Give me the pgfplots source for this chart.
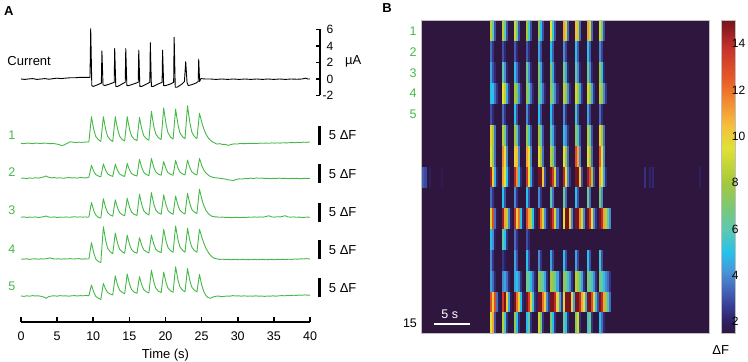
\documentclass[border=0pt]{standalone}
\usepackage{fontspec}
\setmainfont{Liberation Sans}
\usepackage{pgfplots}
\usepackage{pgfplotstable}
\pgfplotsset{compat=1.18}

\definecolor{trace}{RGB}{68,185,72}
\definecolor{hmbg}{RGB}{46,22,62}

% one heat-map cell: a bin of 0.282 s by one cell row
\pgfdeclareplotmark{hmcell}{%
  \pgfpathrectangle{\pgfpoint{-1.1bp}{-10.5bp}}{\pgfpoint{2.2bp}{21bp}}%
  \pgfusepathqfill}

\pgfplotsset{
  /pgf/number format/assume math mode=true,
  tick label style={font=\fontsize{12.5bp}{15bp}\selectfont},
  colormap={dff}{
    rgb255(15pt)=(46,22,62)
    rgb255(20pt)=(45,32,98)
    rgb255(27pt)=(56,62,150)
    rgb255(35pt)=(70,108,192)
    rgb255(42pt)=(72,150,215)
    rgb255(50pt)=(38,194,235)
    rgb255(60pt)=(95,200,175)
    rgb255(70pt)=(125,200,115)
    rgb255(80pt)=(165,200,60)
    rgb255(95pt)=(225,225,55)
    rgb255(105pt)=(245,190,60)
    rgb255(115pt)=(242,140,50)
    rgb255(125pt)=(232,90,40)
    rgb255(138pt)=(200,50,45)
    rgb255(150pt)=(120,20,28)
  },
  trace axis/.style={scale only axis, anchor=south west, width=289bp,
    height=45.6bp, xmin=0, xmax=40, ymin=-1, ymax=11, hide axis, clip=false},
}

% membrane current (uA)
\pgfplotstableread{
t i
0 0.0
0.5 -0.05
1.0 0.0
1.6 0.05
2.2 -0.05
2.8 0.0
3.3 0.05
3.9 -0.03
4.5 0.05
5.0 0.1
5.6 0.05
6.1 0.1
6.8 0.15
7.5 0.15
8.2 0.2
8.8 0.2
9.55 0.2
9.65 6.1
9.8 -0.8
10.0 -0.9
10.6 -0.7
11.12 -0.5
11.2 3.4
11.35 -0.7
11.6 -0.8
12.3 -0.6
12.9 -0.4
12.97 3.7
13.12 -0.9
13.4 -0.9
14.0 -0.6
14.43 -0.4
14.5 3.7
14.65 -0.8
14.9 -0.8
15.6 -0.6
16.23 -0.4
16.3 3.5
16.45 -0.9
16.7 -0.9
17.4 -0.6
17.83 -0.4
17.9 4.4
18.05 -0.9
18.3 -0.9
19.0 -0.6
19.53 -0.4
19.6 3.5
19.75 -0.8
20.0 -0.8
20.7 -0.6
21.13 -0.4
21.2 5.05
21.35 -1.0
21.6 -1.0
22.3 -0.6
22.62 -0.3
22.8 2.1
22.98 -0.4
23.15 -0.8
23.6 -0.7
24.2 -0.5
24.53 -0.3
24.6 2.4
24.72 -0.3
24.9 0.05
25.5 0.0
26.2 0.0
27.0 -0.05
27.8 0.0
28.6 -0.05
29.4 0.0
30.2 -0.05
31.0 0.0
31.8 -0.05
32.6 0.0
33.4 -0.05
34.2 0.0
35.0 -0.05
35.8 0.0
36.6 -0.05
37.4 0.0
38.2 -0.03
38.9 0.0
39.4 0.1
39.7 0.0
40.0 0.0
}\cur

% fluorescence traces (delta F), cells 1-5
\pgfplotstableread{
t f
0 0.0
0.4 -0.1
0.8 0.05
1.2 0.0
1.6 -0.1
2.0 0.05
2.4 0.0
2.8 -0.05
3.2 0.05
3.6 0.0
4.0 -0.1
4.4 -0.05
4.8 -0.15
5.2 -0.3
5.6 -0.6
6.0 -0.4
6.4 0.0
6.8 0.4
7.2 0.3
7.6 0.2
8.0 0.3
8.4 0.25
8.8 0.3
9.2 0.35
9.4 0.4
9.75 7.0
9.9 5.4
10.1 3.4
10.35 1.8
10.7 0.95
11.05 0.5
11.4 7.0
11.55 5.4
11.75 3.4
12.0 1.8
12.35 0.95
12.7 0.5
13.05 7.0
13.2 5.4
13.4 3.5
13.65 1.9
14.0 1.0
14.35 0.6
14.7 7.0
14.85 5.4
15.05 3.5
15.3 1.96
15.65 1.1
16.05 0.7
16.4 6.8
16.55 5.3
16.75 3.5
17.0 2.0
17.35 1.2
17.7 0.8
18.05 8.4
18.2 6.55
18.4 4.3
18.65 2.5
19.0 1.5
19.4 1.0
19.75 9.3
19.9 7.25
20.1 4.8
20.35 2.75
20.7 1.65
21.05 1.1
21.4 9.0
21.55 7.05
21.75 4.7
22.0 2.75
22.35 1.75
22.7 1.2
23.05 9.9
23.2 7.7
23.4 5.1
23.65 2.95
24.0 1.8
24.35 1.2
24.7 7.9
24.85 6.8
25.05 5.3
25.3 3.8
25.6 2.4
26.0 1.2
26.4 0.5
26.8 0.1
27.1 -0.2
27.5 -0.1
27.9 -0.3
28.3 -0.3
28.7 -0.55
29.1 -0.3
29.5 -0.15
29.9 -0.2
30.3 -0.05
30.7 -0.1
31.1 -0.1
31.5 0.0
31.9 -0.05
32.3 0.0
32.7 -0.05
33.1 0.05
33.5 0.0
33.9 0.05
34.3 0.0
34.7 0.1
35.1 0.05
35.5 0.1
35.9 0.05
36.3 0.15
36.7 0.1
37.1 0.15
37.5 0.2
37.9 0.15
38.3 0.25
38.7 0.2
39.1 0.3
39.5 0.25
40.0 0.35
}\cellA

\pgfplotstableread{
t f
0 0.0
0.4 0.05
0.8 -0.1
1.2 0.1
1.6 0.0
2.0 0.15
2.4 0.05
2.8 0.2
3.2 0.4
3.5 0.6
3.8 0.3
4.2 0.1
4.6 0.2
5.0 0.05
5.4 0.15
5.8 0.0
6.2 0.1
6.6 0.2
7.0 0.1
7.4 0.15
7.8 0.05
8.2 0.2
8.6 0.15
9.0 0.1
9.2 0.2
9.4 0.3
9.75 3.4
9.9 2.65
10.1 1.7
10.35 1.0
10.7 0.6
11.05 0.4
11.4 3.8
11.55 2.95
11.75 2.0
12.0 1.15
12.35 0.75
12.7 0.5
13.05 3.7
13.2 2.9
13.4 1.95
13.65 1.15
14.0 0.7
14.35 0.5
14.7 3.9
14.85 3.05
15.05 2.1
15.3 1.25
15.65 0.85
16.05 0.6
16.4 5.0
16.55 3.9
16.75 2.65
17.0 1.55
17.35 1.0
17.7 0.7
18.05 5.2
18.2 4.1
18.4 2.8
18.65 1.7
19.0 1.1
19.4 0.8
19.75 4.4
19.9 3.5
20.1 2.4
20.35 1.5
20.7 1.05
21.05 0.8
21.4 4.7
21.55 3.75
21.75 2.6
22.0 1.65
22.35 1.15
22.7 0.9
23.05 4.8
23.2 3.8
23.4 2.65
23.65 1.7
24.0 1.15
24.35 0.9
24.7 5.2
24.85 4.4
25.05 3.2
25.3 2.2
25.6 1.4
26.0 0.7
26.4 0.35
26.8 0.15
27.1 0.1
27.5 0.0
27.9 -0.1
28.3 -0.2
28.7 -0.4
29.1 -0.5
29.4 -0.6
29.8 -0.3
30.2 -0.15
30.6 -0.2
31.0 -0.05
31.4 -0.1
31.8 0.05
32.2 -0.05
32.6 0.1
33.0 0.0
33.4 0.05
33.8 -0.05
34.2 0.0
34.6 -0.1
35.0 0.0
35.4 -0.05
35.8 0.05
36.2 -0.05
36.6 0.0
37.0 -0.1
37.4 0.0
37.8 -0.05
38.2 0.0
38.6 -0.1
39.0 -0.05
39.4 0.0
40.0 -0.05
}\cellB

\pgfplotstableread{
t f
0 0.0
0.4 0.1
0.8 -0.05
1.2 0.05
1.6 0.0
2.0 0.1
2.4 -0.05
2.8 0.05
3.2 0.2
3.5 0.35
3.8 0.1
4.2 0.0
4.6 0.1
5.0 -0.05
5.4 0.05
5.8 0.0
6.2 0.1
6.6 0.0
7.0 0.05
7.4 0.15
7.8 0.05
8.2 0.1
8.6 0.05
9.0 0.1
9.2 0.0
9.4 0.1
9.75 3.9
9.9 2.9
10.1 1.6
10.35 0.6
10.7 0.0
11.05 -0.2
11.4 4.9
11.55 3.75
11.75 2.4
12.0 1.2
12.35 0.6
12.7 0.3
13.05 4.6
13.2 3.55
13.4 2.3
13.65 1.25
14.0 0.7
14.35 0.4
14.7 5.0
14.85 3.9
15.05 2.5
15.3 1.4
15.65 0.8
16.05 0.5
16.4 6.1
16.55 4.7
16.75 3.1
17.0 1.7
17.35 1.0
17.7 0.6
18.05 6.5
18.2 5.05
18.4 3.4
18.65 1.95
19.0 1.2
19.4 0.8
19.75 5.9
19.9 4.6
20.1 3.1
20.35 1.8
20.7 1.15
21.05 0.8
21.4 5.6
21.55 4.4
21.75 3.0
22.0 1.85
22.35 1.2
22.7 0.9
23.05 6.3
23.2 4.95
23.4 3.4
23.65 2.05
24.0 1.35
24.35 1.0
24.7 7.4
24.85 6.2
25.05 4.6
25.3 3.1
25.6 1.8
26.0 0.8
26.4 0.3
26.8 0.1
27.1 0.1
27.5 0.0
27.9 0.05
28.3 -0.05
28.7 0.0
29.1 -0.1
29.5 -0.05
29.9 0.0
30.3 -0.1
30.7 0.0
31.1 -0.05
31.5 0.05
31.9 0.0
32.3 0.1
32.7 0.0
33.1 0.1
33.5 0.05
33.9 0.2
34.3 0.4
34.7 0.1
35.1 0.05
35.5 0.15
35.9 0.1
36.3 0.3
36.6 0.4
36.9 0.1
37.3 0.05
37.7 0.1
38.1 0.0
38.5 0.05
38.9 -0.05
39.3 0.0
39.7 0.05
40.0 0.0
}\cellC

\pgfplotstableread{
t f
0 0.0
0.4 -0.05
0.8 0.05
1.2 -0.1
1.6 0.0
2.0 0.05
2.4 -0.05
2.8 0.05
3.2 0.0
3.6 0.1
4.0 0.3
4.4 0.05
4.8 0.0
5.2 0.05
5.6 -0.05
6.0 0.05
6.4 0.0
6.8 0.1
7.2 0.0
7.6 0.05
8.0 0.1
8.4 -0.05
8.8 0.05
9.2 0.0
9.4 0.0
9.75 4.3
9.9 3.0
10.1 1.4
10.35 0.0
10.7 -0.7
11.05 -0.9
11.4 8.5
11.55 6.8
11.75 4.6
12.0 2.8
12.35 1.9
12.7 1.4
13.05 6.8
13.2 5.5
13.4 3.9
13.65 2.6
14.0 1.9
14.35 1.5
14.7 6.3
14.85 5.1
15.05 3.7
15.3 2.5
15.65 1.85
16.05 1.5
16.4 5.6
16.55 4.6
16.75 3.4
17.0 2.4
17.35 1.9
17.7 1.6
18.05 6.3
18.2 5.15
18.4 3.8
18.65 2.6
19.0 2.0
19.4 1.7
19.75 7.8
19.9 6.3
20.1 4.5
20.35 3.0
20.7 2.2
21.05 1.8
21.4 8.7
21.55 7.0
21.75 4.9
22.0 3.2
22.35 2.3
22.7 1.8
23.05 8.1
23.2 6.5
23.4 4.6
23.65 3.1
24.0 2.2
24.35 1.8
24.7 7.8
24.85 6.9
25.05 5.6
25.3 4.2
25.6 2.8
26.0 1.5
26.4 0.6
26.8 0.15
27.1 0.05
27.5 -0.1
27.9 -0.05
28.3 -0.15
28.7 -0.1
29.1 -0.2
29.5 -0.1
29.9 -0.15
30.3 -0.2
30.7 -0.1
31.1 -0.2
31.5 -0.15
31.9 -0.2
32.3 -0.1
32.7 -0.2
33.1 -0.15
33.5 -0.1
33.9 -0.2
34.3 -0.15
34.7 -0.1
35.1 -0.2
35.5 -0.1
35.9 -0.15
36.3 -0.1
36.7 -0.15
37.1 -0.05
37.5 -0.1
37.9 0.0
38.3 -0.05
38.7 0.05
39.1 0.0
39.5 0.1
40.0 0.0
}\cellD

\pgfplotstableread{
t f
0 0.0
0.4 -0.1
0.8 0.05
1.2 -0.05
1.6 0.1
2.0 0.0
2.4 0.05
2.8 -0.1
3.2 -0.3
3.5 -0.6
3.8 -0.2
4.2 0.0
4.6 0.05
5.0 -0.05
5.4 0.1
5.8 0.0
6.2 0.05
6.6 -0.05
7.0 0.05
7.4 0.1
7.8 0.0
8.2 0.1
8.6 0.05
9.0 0.15
9.2 0.1
9.4 0.1
9.75 2.9
9.9 2.0
10.1 0.9
10.35 -0.1
10.7 -0.6
11.05 -0.9
11.4 3.3
11.55 2.55
11.75 1.65
12.0 0.9
12.35 0.5
12.7 0.3
13.05 5.3
13.2 4.1
13.4 2.7
13.65 1.55
14.0 0.95
14.35 0.6
14.7 5.8
14.85 4.5
15.05 3.0
15.3 1.7
15.65 1.05
16.05 0.7
16.4 5.1
16.55 4.0
16.75 2.75
17.0 1.65
17.35 1.1
17.7 0.8
18.05 6.8
18.2 5.3
18.4 3.55
18.65 2.1
19.0 1.3
19.4 0.9
19.75 6.3
19.9 4.95
20.1 3.4
20.35 2.05
20.7 1.35
21.05 1.0
21.4 7.7
21.55 6.05
21.75 4.05
22.0 2.4
22.35 1.55
22.7 1.1
23.05 7.2
23.2 5.7
23.4 3.85
23.65 2.3
24.0 1.5
24.35 1.1
24.7 5.7
24.85 4.3
25.05 2.6
25.3 1.2
25.6 0.1
25.9 -0.4
26.2 -0.6
26.5 -0.3
26.9 -0.1
27.3 0.0
27.7 -0.15
28.1 -0.1
28.5 0.0
28.9 -0.05
29.3 0.1
29.7 0.0
30.1 0.05
30.5 -0.05
30.9 0.05
31.3 -0.05
31.7 0.0
32.1 -0.05
32.5 0.05
32.9 -0.05
33.3 0.0
33.7 -0.1
34.1 0.0
34.5 -0.05
34.9 0.05
35.3 -0.05
35.7 0.05
36.1 0.1
36.5 0.05
36.9 0.15
37.3 0.1
37.7 0.2
38.1 0.15
38.5 0.25
38.9 0.2
39.3 0.3
39.7 0.2
40.0 0.25
}\cellE

% heat map: delta F of cells 1-15 in 0.282 s bins (bin centres in t)
\pgfplotstableread{
t r1 r2 r3 r4 r5 r6 r7 r8 r9 r10 r11 r12 r13 r14 r15
9.59 8.5 3.5 4.5 5 3 10 9.5 14.5 3.5 9 5 4 4.5 13 9.5
9.87 6 2.5 3 5 2.2 8 7.5 10 2.5 13 4 2.5 3.5 10 11
10.15 3 1.5 2.2 3.5 1.5 3.5 3.5 4.5 1.5 3.5 2 1.5 2.2 13 3
10.44 1.5 1.5 1.5 2.5 1.5 1.5 1.5 2.2 1.5 1.8 1.5 1.5 1.5 3.5 1.5
10.72 1.5 1.5 1.5 1.5 1.5 1.5 1.5 1.5 1.5 1.5 1.5 1.5 1.5 1.8 1.5
11.28 8.5 3 6 9.5 3.5 8.5 11.5 11 5 14.5 6 2.5 4 13.5 8.5
11.57 6 2.2 4 8.5 2.5 6.5 9.5 9.5 3 11 5 2 4.5 15 5.5
11.85 3 1.5 2.2 4.5 1.5 3 4 5 1.5 8.5 2.5 1.5 3.5 10 2.5
12.13 1.5 1.5 1.5 2.5 1.5 1.5 1.5 2.3 1.5 4 1.5 1.5 2.2 4.5 1.5
12.41 1.5 1.5 1.5 1.5 1.5 1.5 1.5 1.5 1.5 2 1.5 1.5 1.5 2 1.5
12.98 9 3.2 5 8 5 8 10 14 4 14 3.5 4.5 4.5 15 7.5
13.26 6.5 2.2 3.5 7 3 6 10.5 11.5 2.5 10 2.5 3 5 12 5
13.54 3 1.5 2.2 4 1.5 3 4 5 1.5 12 1.5 1.5 4 10 2.5
13.82 1.5 1.5 1.5 2.3 1.5 1.5 1.5 2.3 1.5 5 1.5 1.5 2.5 5 1.5
14.10 1.5 1.5 1.5 1.5 1.5 1.5 1.5 1.5 1.5 2.2 1.5 1.5 1.5 2.2 1.5
14.39 1.5 1.5 1.5 1.5 1.5 1.5 1.5 1.5 1.5 1.5 1.5 1.5 1.5 1.8 1.5
14.67 8 3.2 6.5 7.5 4 7.5 11 13.5 5 13 3 5 6.5 15 5
14.95 5.5 2.3 4 6 2.5 5.5 9.5 9.5 3 11 2.2 3 6 13.5 6
15.23 3 1.5 2.2 3.5 1.5 3 4 4.5 1.5 8.5 1.5 1.5 5 10 2.5
15.52 1.5 1.5 1.5 2.2 1.5 1.5 1.5 2.3 1.5 5 1.5 1.5 3.5 5.5 1.5
15.80 1.5 1.5 1.5 1.5 1.5 1.5 1.5 1.5 1.5 2.2 1.5 1.5 2.2 2.5 1.5
16.08 1.5 1.5 1.5 1.5 1.5 1.5 1.5 1.5 1.5 1.5 1.5 1.5 1.5 2 1.5
16.36 7.5 4.5 7 7 5 8 9.5 15 4 15 1.5 4 7.5 15 9
16.65 5 3 4.5 5.5 3 6 8 15 2.5 12 1.5 2.5 7 15 7
16.93 3 1.5 2.2 3.5 1.5 3 3.5 10 1.5 9 1.5 1.5 6 12 2.5
17.21 1.5 1.5 1.5 2.2 1.5 1.5 1.5 3 1.5 4 1.5 1.5 4.5 10 1.5
17.49 1.5 1.5 1.5 1.5 1.5 1.5 1.5 1.5 1.5 2.2 1.5 1.5 2.5 4 1.5
17.77 1.5 1.5 1.5 1.5 1.5 1.5 1.5 1.5 1.5 1.5 1.5 1.5 1.5 2.5 1.5
18.06 9.5 5 7 7.5 5 6 8.5 15 6 15 1.5 4.5 8 15 7
18.34 5.5 3.2 4.5 6 3 4.5 7 13.5 3.5 13.5 1.5 2.8 7.5 15 5
18.62 3 1.5 2.2 4 1.5 2.5 3.5 9 1.5 9 1.5 1.5 6.5 14 2.5
18.90 1.5 1.5 1.5 2.3 1.5 1.5 1.5 3 1.5 4 1.5 1.5 4.5 10 1.5
19.19 1.5 1.5 1.5 1.5 1.5 1.5 1.5 1.5 1.5 2.2 1.5 1.5 2.5 4.5 1.5
19.47 1.5 1.5 1.5 1.5 1.5 1.5 1.5 1.5 1.5 1.5 1.5 1.5 1.5 2.5 1.5
19.75 11 4 7 8.5 4 5 9.5 14 6.5 9.5 1.5 5 7.5 10 6.5
20.03 9 2.8 4.5 7.5 2.5 4 7.5 9.5 3.5 15 1.5 3 7 15 5
20.31 3.5 1.5 2.2 4 1.5 2.5 3.5 4 1.5 15 1.5 1.5 5.5 15 2.5
20.60 1.5 1.5 1.5 2.3 1.5 1.5 1.5 2.5 1.5 10 1.5 1.5 4 15 1.5
20.88 1.5 1.5 1.5 1.5 1.5 1.5 1.5 1.5 1.5 4 1.5 1.5 2.5 10 1.5
21.16 1.5 1.5 1.5 1.5 1.5 1.5 1.5 1.5 1.5 2 1.5 1.5 1.5 4.5 1.5
21.44 10.5 5 6 9 5.5 7.5 13 15 5 15 1.5 4.5 8.5 15 7.5
21.73 8.5 3.2 4 8 3.2 5.5 11 15 3 15 1.5 2.8 8 15 9
22.01 3.5 1.5 2.2 4.5 1.5 3 4 10 1.5 11.5 1.5 1.5 6 14 2.5
22.29 1.5 1.5 1.5 2.5 1.5 1.5 1.5 3 1.5 9 1.5 1.5 4.5 11 1.5
22.57 1.5 1.5 1.5 1.5 1.5 1.5 1.5 1.5 1.5 4 1.5 1.5 2.5 9.5 1.5
22.85 1.5 1.5 1.5 1.5 1.5 1.5 1.5 1.5 1.5 2 1.5 1.5 1.5 4.5 1.5
23.14 11 5 6.5 9 4.5 8.5 9.5 14.5 6.5 15 1.5 5 7 15 5.5
23.42 9 3.2 4 8 2.8 6 8 13 3.5 13.5 1.5 3 6.5 15 6.5
23.70 3.5 1.5 2.2 4.5 1.5 3 3.5 8 1.5 9.5 1.5 1.5 5.5 13 2.5
23.98 1.5 1.5 1.5 2.5 1.5 1.5 1.5 3 1.5 4 1.5 1.5 4 10 1.5
24.27 1.5 1.5 1.5 1.5 1.5 1.5 1.5 1.5 1.5 2.5 1.5 1.5 2.5 5 1.5
24.55 1.5 1.5 1.5 1.5 1.5 1.5 1.5 1.5 1.5 1.8 1.5 1.5 1.5 3 1.5
24.83 9 4 8 8.5 3.5 10 12.5 11 7 15 1.5 5.5 7 15 5
25.11 6.5 2.8 5 7.5 2.3 8 9.5 9.5 4 14 1.5 3 6 14 3.5
25.39 3 1.5 2.2 4 1.5 3.5 4 4.5 1.5 11 1.5 1.5 5 11 2.2
25.68 1.5 1.5 1.5 2.5 1.5 1.5 1.5 2.3 1.5 8.5 1.5 1.5 4 8 1.5
25.96 1.5 1.5 1.5 1.5 1.5 1.5 1.5 1.5 1.5 6 1.5 1.5 3.5 5.5 1.5
26.24 1.5 1.5 1.5 1.5 1.5 1.5 1.5 1.5 1.5 4 1.5 1.5 2.5 3.5 1.5
}\heat

% isolated events of cell 8 outside the stimulation
\pgfplotstableread{
t v
0.25 3.2
0.53 2.9
1.2 1.9
2.8 1.8
31.1 2.4
31.8 2.1
32.2 2.2
38.7 2.0
}\heatextra

\begin{document}
\begin{tikzpicture}[font=\fontsize{13bp}{15.6bp}\selectfont]
\useasboundingbox (0,0) rectangle (748bp,362bp);

% ---------- panel A ----------
\node[font=\fontsize{13bp}{15bp}\selectfont\bfseries] at (8.7bp,351.2bp) {A};
\node[anchor=west, inner sep=0pt] at (7.3bp,301bp) {Current};
\node[anchor=west, inner sep=0pt] at (345bp,301bp) {µA};

\begin{axis}[scale only axis, anchor=south west, at={(21bp,266.5bp)},
  width=299.1bp, height=66bp, xmin=0, xmax=41.4, ymin=-2, ymax=6,
  clip=false, axis x line=none, axis y line=right,
  axis line style={-, line width=2bp},
  ytick={-2,0,2,4,6}, yticklabel pos=right, tick align=inside,
  major tick length=4bp, tick style={line width=1.6bp, black},
  yticklabel style={anchor=east, inner sep=0pt, xshift=13.5bp,
    font=\fontsize{12bp}{14bp}\selectfont}]
  \addplot[black, line width=0.9bp, no marks, line join=round] table[x=t, y=i] {\cur};
\end{axis}

\begin{axis}[trace axis, at={(21bp,214.9bp)}]
  \addplot[trace, line width=0.9bp, no marks, line join=round] table[x=t, y=f] {\cellA};
  \draw[line width=3bp] (axis cs:41.3,-0.45) -- (axis cs:41.3,4.55);
  \node[anchor=west, inner sep=0pt] at (axis cs:42.6,2.05) {5 ΔF};
  \node[trace, font=\fontsize{12.5bp}{15bp}\selectfont] at (axis cs:-1.25,2.2) {1};
\end{axis}

\begin{axis}[trace axis, at={(21bp,179.9bp)}]
  \addplot[trace, line width=0.9bp, no marks, line join=round] table[x=t, y=f] {\cellB};
  \draw[line width=3bp] (axis cs:41.3,-1.3) -- (axis cs:41.3,3.7);
  \node[anchor=west, inner sep=0pt] at (axis cs:42.6,1.2) {5 ΔF};
  \node[trace, font=\fontsize{12.5bp}{15bp}\selectfont] at (axis cs:-1.25,1.5) {2};
\end{axis}

\begin{axis}[trace axis, at={(21bp,140.9bp)}]
  \addplot[trace, line width=0.9bp, no marks, line join=round] table[x=t, y=f] {\cellC};
  \draw[line width=3bp] (axis cs:41.3,-1.15) -- (axis cs:41.3,3.85);
  \node[anchor=west, inner sep=0pt] at (axis cs:42.6,1.35) {5 ΔF};
  \node[trace, font=\fontsize{12.5bp}{15bp}\selectfont] at (axis cs:-1.25,1.9) {3};
\end{axis}

\begin{axis}[trace axis, at={(21bp,99.2bp)}]
  \addplot[trace, line width=0.9bp, no marks, line join=round] table[x=t, y=f] {\cellD};
  \draw[line width=3bp] (axis cs:41.3,-0.1) -- (axis cs:41.3,4.9);
  \node[anchor=west, inner sep=0pt] at (axis cs:42.6,2.4) {5 ΔF};
  \node[trace, font=\fontsize{12.5bp}{15bp}\selectfont] at (axis cs:-1.25,2.55) {4};
\end{axis}

\begin{axis}[trace axis, at={(21bp,62.2bp)}]
  \addplot[trace, line width=0.9bp, no marks, line join=round] table[x=t, y=f] {\cellE};
  \draw[line width=3bp] (axis cs:41.3,-0.35) -- (axis cs:41.3,4.65);
  \node[anchor=west, inner sep=0pt] at (axis cs:42.6,2.15) {5 ΔF};
  \node[trace, font=\fontsize{12.5bp}{15bp}\selectfont] at (axis cs:-1.25,2.45) {5};
\end{axis}

% time axis shared by the traces
\begin{axis}[scale only axis, anchor=south west, at={(21bp,40bp)},
  width=289bp, height=10bp, xmin=0, xmax=40, ymin=0, ymax=1,
  axis x line=bottom, axis y line=none,
  axis line style={-, line width=2bp},
  xtick={0,5,...,40}, tick align=inside, major tick length=5bp,
  tick style={line width=1.6bp, black},
  xticklabel style={anchor=north, inner sep=0pt, yshift=-9.5bp}]
\end{axis}
\node[anchor=base] at (165.5bp,4bp) {Time (s)};

% ---------- panel B ----------
\node[font=\fontsize{13bp}{15bp}\selectfont\bfseries] at (387bp,353.7bp) {B};

\begin{axis}[scale only axis, anchor=south west, at={(421.7bp,28.7bp)},
  width=287.6bp, height=312.6bp, xmin=0, xmax=40, ymin=0.5, ymax=15.5,
  y dir=reverse, xtick=\empty, ytick=\empty, clip=false,
  axis line style={draw=black!25, line width=0.8bp},
  axis background/.style={fill=hmbg},
  point meta min=1.5, point meta max=15,
  colorbar,
  colorbar style={at={(parent axis.north east)}, anchor=north west,
    xshift=4bp, scale only axis, width=13.4bp, height=312.6bp,
    ytick={2,4,...,14}, major tick length=0pt,
    axis line style={draw=black!25, line width=0.8bp},
    yticklabel style={anchor=west, inner sep=0pt, xshift=-3.5bp,
      font=\fontsize{12bp}{14bp}\selectfont}}]
  \pgfplotsinvokeforeach{1,...,15}{
    \addplot[scatter, only marks, mark=hmcell, point meta=\thisrow{r#1}]
      table[x=t, y expr=#1] {\heat};
  }
  \addplot[scatter, only marks, mark=hmcell, point meta=\thisrow{v}]
    table[x=t, y expr=8] {\heatextra};
  \pgfplotsinvokeforeach{1,...,5}{
    \node[trace, font=\fontsize{12.5bp}{15bp}\selectfont] at (axis cs:-1.2,#1) {#1};
  }
  \node[font=\fontsize{12.5bp}{15bp}\selectfont] at (axis cs:-1.63,15) {15};
  \draw[white, line width=2.7bp] (axis cs:1.65,15.05) -- (axis cs:6.65,15.05);
  \node[white, font=\fontsize{12.5bp}{15bp}\selectfont] at (axis cs:3.9,14.6) {5 s};
\end{axis}
\node at (720.8bp,12bp) {ΔF};

\end{tikzpicture}
\end{document}
